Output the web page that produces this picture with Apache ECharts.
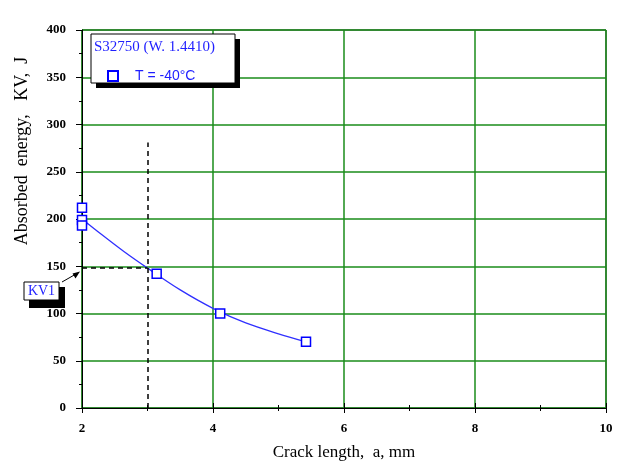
<!DOCTYPE html>
<html><head><meta charset="utf-8">
<script src="https://cdn.jsdelivr.net/npm/echarts@6/dist/echarts.min.js"></script>
<style>html,body{margin:0;padding:0;background:#fff}#c{width:621px;height:466px}</style>
</head><body><div id="c"></div>
<script>
// measured points (crack length mm, absorbed energy J)
var pointsX = [2, 2, 2, 3.14, 4.11, 5.42];
var pointsY = [212, 199, 193, 142, 100, 70];
// fitted curve
var curveX = [2, 2.3, 2.65, 3, 3.5, 4, 4.5, 5, 5.42];
var curveY = [200, 183.5, 165, 148, 125, 105.5, 90, 78.5, 70];
// KV1 construction lines
var kvX = 3, kvY = 148, kvTop = 281;
var xTicks = [2, 4, 6, 8, 10];
var yTicks = [0, 50, 100, 150, 200, 250, 300, 350, 400];

var serif = '"Liberation Serif","DejaVu Serif",serif';
var sans = '"Liberation Sans",Arial,sans-serif';
var blue = '#1f1fff';
var chart = echarts.init(document.getElementById('c'));
var xBase = {
  type: 'value', min: xTicks[0], max: xTicks[xTicks.length-1], interval: 2
};
chart.setOption({
  animation: false,
  grid: {left: 82, right: 15, top: 30, bottom: 58, show: true, borderColor: '#000', borderWidth: 1},
  xAxis: [
    Object.assign({}, xBase, {
      name: 'Crack length,  a, mm', nameLocation: 'middle', nameGap: 36,
      nameTextStyle: {fontFamily: serif, fontSize: 17, color: '#000'},
      axisLine: {lineStyle: {color: '#000', width: 1}},
      axisTick: {length: 5, inside: false, lineStyle: {color: '#000'}},
      minorTick: {show: true, splitNumber: 2, length: 3, lineStyle: {color: '#000'}},
      axisLabel: {fontFamily: serif, fontSize: 13, fontWeight: 'bold', color: '#000', margin: 14},
      splitLine: {show: true, lineStyle: {color: '#1a8c1a', width: 1.5}}
    }),
    Object.assign({}, xBase, {
      position: 'bottom',
      axisLine: {show: false},
      axisTick: {show: true, length: 5, inside: true, lineStyle: {color: '#000'}},
      minorTick: {show: true, splitNumber: 2, length: 3, lineStyle: {color: '#000'}},
      axisLabel: {show: false},
      splitLine: {show: false}
    })
  ],
  yAxis: {
    type: 'value', min: yTicks[0], max: yTicks[yTicks.length-1], interval: 50,
    axisLine: {show: true, lineStyle: {color: '#000', width: 1}},
    axisTick: {show: true, length: 6, lineStyle: {color: '#000'}},
    minorTick: {show: true, splitNumber: 2, length: 3, lineStyle: {color: '#000'}},
    axisLabel: {fontFamily: serif, fontSize: 13, fontWeight: 'bold', color: '#000', margin: 16},
    splitLine: {show: true, lineStyle: {color: '#1a8c1a', width: 1.5}}
  },
  legend: {
    show: true, data: ['T = -40°C'], left: 102, top: 64, itemWidth: 10, itemHeight: 10, itemGap: 6,
    textStyle: {fontFamily: sans, fontSize: 14, color: blue, padding: [0,0,0,12]},
    z: 20
  },
  graphic: [
    {type: 'text', x: 22, y: 151, rotation: Math.PI / 2,
     style: {text: 'Absorbed  energy,   KV,  J', font: '18px ' + serif, fill: '#000', textAlign: 'center', textVerticalAlign: 'middle'}},
    {type: 'rect', shape: {x: 96, y: 39, width: 144, height: 49}, style: {fill: '#000'}, z: 10},
    {type: 'rect', shape: {x: 91, y: 34, width: 144, height: 49}, style: {fill: '#fff', stroke: '#000', lineWidth: 1}, z: 11},
    {type: 'text', x: 94, y: 47, style: {text: 'S32750 (W. 1.4410)', font: '15px ' + serif, fill: blue, textVerticalAlign: 'middle'}, z: 12},
    {type: 'rect', shape: {x: 29, y: 287, width: 36, height: 21}, style: {fill: '#000'}, z: 10},
    {type: 'rect', shape: {x: 24, y: 282, width: 35, height: 18}, style: {fill: '#fff', stroke: '#000', lineWidth: 1}, z: 11},
    {type: 'text', x: 41.5, y: 291, style: {text: 'KV1', font: '14px ' + serif, fill: blue, textAlign: 'center', textVerticalAlign: 'middle'}, z: 12},
    {type: 'line', shape: {x1: 62, y1: 282, x2: 76, y2: 274}, style: {stroke: '#000', lineWidth: 1}, z: 12},
    {type: 'polygon', shape: {points: [[80, 271.5], [72.5, 273.5], [75.5, 278.5]]}, style: {fill: '#000'}, z: 12}
  ],
  series: [
    {
      name: 'fit', type: 'line', smooth: 0.3, showSymbol: false, silent: true,
      data: curveX.map(function (x, i) { return [x, curveY[i]]; }),
      lineStyle: {color: '#3030ff', width: 1.3}, z: 3,
      markLine: {
        silent: true, symbol: ['none', 'none'], label: {show: false},
        lineStyle: {color: '#000', type: [5, 4], width: 1.5},
        data: [
          [{coord: [kvX, 0]}, {coord: [kvX, kvTop]}],
          [{coord: [xTicks[0], kvY]}, {coord: [kvX, kvY]}]
        ]
      }
    },
    {
      name: 'T = -40°C', type: 'scatter', symbol: 'rect', symbolSize: 9,
      data: pointsX.map(function (x, i) { return [x, pointsY[i]]; }),
      itemStyle: {color: '#fff', borderColor: '#0000ff', borderWidth: 1.5, opacity: 1}, z: 5
    }
  ]
});
</script></body></html>
